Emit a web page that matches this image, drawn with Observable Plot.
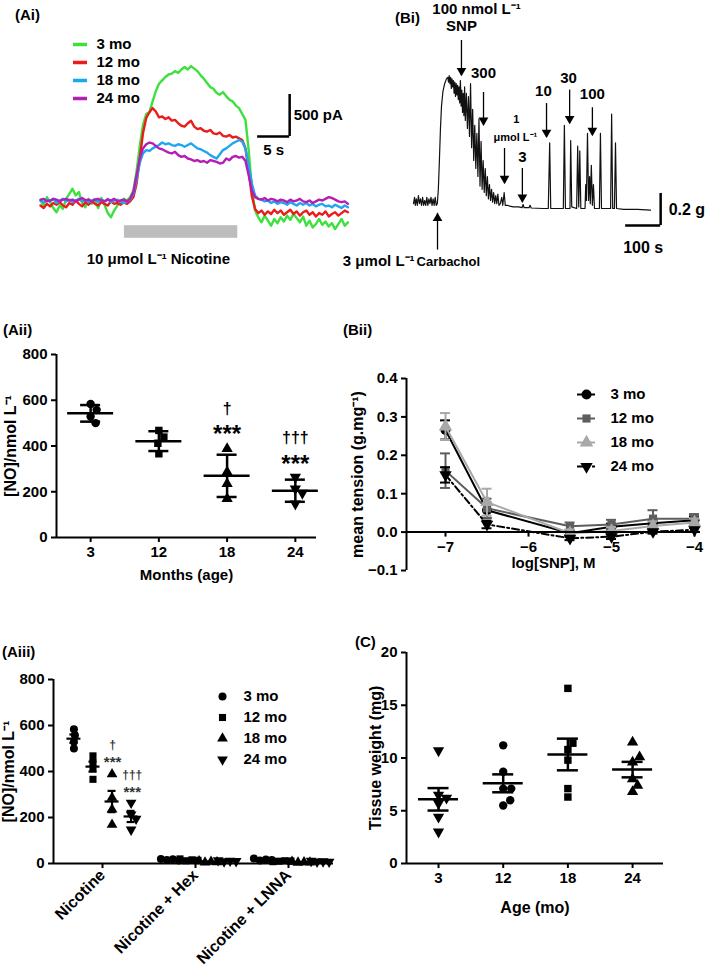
<!DOCTYPE html>
<html><head><meta charset="utf-8">
<script src="https://cdn.jsdelivr.net/npm/d3@7"></script>
<script src="https://cdn.jsdelivr.net/npm/@observablehq/plot@0.6"></script>
<style>
html,body{margin:0;padding:0;background:#fff;}
#page{position:relative;width:709px;height:966px;overflow:hidden;background:#fff;font-family:'Liberation Sans',Arial,Helvetica,sans-serif;color:#000;}
.plabel{position:absolute;font-weight:bold;font-size:15px;line-height:16px;white-space:nowrap;}
</style></head>
<body><div id="page"></div>
<script>
// ================= DATA =================
// (Ai) nicotine-evoked currents, one sample every 0.5 s, in pA
const aiSeries = ["3 mo", "12 mo", "18 mo", "24 mo"];
const aiStep = 0.5;
const ai3mo = [0,-60,40,-20,-90,-140,-60,-100,20,80,140,60,100,-30,-80,20,-40,10,-90,30,-50,-150,-200,-120,-60,-20,20,0,40,120,
 350,650,900,1030,1050,1180,1300,1390,1430,1470,1500,1510,1540,1520,1560,1590,1560,1600,1570,1540,1490,1450,1400,1350,1330,1280,1260,1290,1240,1200,1180,1130,1100,1030,960,
 600,150,-120,-200,-260,-180,-240,-300,-220,-270,-200,-250,-180,-230,-160,-210,-260,-190,-300,-240,-320,-280,-220,-290,-250,-310,-270,-340,-280,-220,-300,-260];
const ai12mo = [-60,-90,-40,-70,-30,-50,-20,-60,-80,-30,-50,0,-40,-70,-20,-50,-10,-40,-60,-20,-40,-60,-10,-40,-30,-50,-20,-40,-10,40,
 200,500,800,980,1050,1100,1060,990,1000,970,990,950,960,920,890,880,920,950,880,850,860,830,820,840,800,790,810,770,760,780,750,760,740,720,620,
 350,50,-100,-150,-120,-170,-130,-160,-110,-150,-120,-170,-140,-110,-160,-130,-180,-140,-120,-170,-140,-190,-150,-170,-130,-190,-160,-140,-180,-150,-120,-140];
const ai18mo = [0,-20,10,-10,20,-30,0,20,-10,10,-20,0,20,-10,10,-20,0,15,-15,10,-10,20,-20,0,10,-20,-30,-10,10,80,
 250,450,560,600,590,620,640,660,690,670,680,660,650,670,660,640,660,680,650,620,610,590,570,540,520,500,550,600,620,650,680,700,720,700,620,
 420,200,60,20,10,-10,0,-30,-10,-40,-20,-30,-50,-20,-40,-60,-30,-50,-30,-60,-40,-70,-50,-40,-70,-60,-80,-50,-70,-90,-60,-80];
const ai24mo = [10,20,-10,0,20,10,-10,10,20,0,10,-10,10,30,0,10,-10,10,20,0,-10,10,0,20,-10,0,10,-10,20,100,
 300,500,620,670,690,680,650,620,610,590,570,560,580,540,520,530,500,490,470,480,460,470,450,480,470,460,440,450,500,480,520,530,510,520,470,
 300,120,40,20,10,30,0,20,10,-10,10,0,-20,10,-10,0,20,-10,-20,0,-30,-10,10,0,20,40,30,10,-10,-20,-10,-40];
const nicotinePeriod = {start: 13.1, end: 30.8};          // s
const aiScaleBar = {t: 38.9, pA: 762, tLen: 5, pALen: 500};

// (Bi) SNP relaxation trace: [time s, tension g]
const biTrace = [[0,0.03],[3,0.07],[5,0.02],[8,0.06],[11,0.02],[14,0.08],[17,0.03],[20,0.06],[23,0.02],[26,0.07],[29,0.02],[32,0.05],[35,0.02],[38,0.07],[41,0.02],[44,0.06],[47,0.03],[50,0.07],[53,0.02],[56,0.06],[59,0.02],[62,0.07],[65,0.02],[68,0.03],
 [71,0.12],[74,0.3],[77,0.5],[80,0.64],[84,0.73],[89,0.78],[94,0.81],[98,0.82],
 [100,0.79],[102,0.83],[104,0.78],[106,0.82],[108,0.75],[110,0.81],[112,0.76],[114,0.80],[116,0.72],[118,0.79],[120,0.70],[122,0.78],[124,0.71],[126,0.77],[128,0.68],[130,0.76],[132,0.66],[134,0.80],[136,0.64],[138,0.74],[140,0.60],[142,0.72],[144,0.58],[146,0.76],[148,0.55],
 [151,0.72],[154,0.5],[157,0.7],[160,0.45],[163,0.78],[166,0.38],[169,0.62],[172,0.3],[175,0.52],[178,0.25],[181,0.47],[184,0.2],[187,0.56],[190,0.14],[193,0.42],[196,0.12],[199,0.3],[202,0.1],[205,0.25],[208,0.08],[211,0.2],[214,0.06],[217,0.15],[220,0.05],[223,0.12],[226,0.04],[229,0.1],[232,0.03],[235,0.08],[238,0.03],[241,0.09],[244,0.02],[248,0.03],[252,0.07],[255,0.02],[259,0.1],[262,0.02],[268,0.02],[275,0.015],[285,0.01],[300,0.01],[310,0.005],[313,0.025],[316,0.005],[330,0.005],[333,0.02],[336,0.003],[370,0],
 [385,0],[389,0.41],[392,0],[428,0],[431,0.52],[434,0],[447,0],[449,0.425],[452,0.01],[466,0],[469,0.39],[472,0.01],[473,0.1],[475,0.36],[478,0],[490,0],[492,0.15],[494,0.05],[497,0.47],[500,0.05],[503,0.2],[505,0.03],[508,0.27],[511,0.02],[514,0.15],[517,0],[531,0],[534,0.47],[537,0],[563,0],[566,0.59],[569,0],[574,0],[577,0.41],[580,0],[600,-0.005],[640,-0.005],[677,-0.01]];
const biArrowsDown = [
  {t: 137, from: 1.05, to: 0.83}, {t: 200, from: 0.725, to: 0.52}, {t: 260, from: 0.375, to: 0.156},
  {t: 311, from: 0.25, to: 0.038}, {t: 380, from: 0.656, to: 0.444}, {t: 446, from: 0.74, to: 0.53},
  {t: 511, from: 0.63, to: 0.456}];
const biArrowsUp = [{t: 68.6, from: -0.26, to: -0.03}];
const biLabelsBig = [
  {text: "100 nmol L⁻¹", t: 180, g: 1.245}, {text: "SNP", t: 137, g: 1.14}, {text: "300", t: 200, g: 0.844},
  {text: "3", t: 311, g: 0.319}, {text: "10", t: 371, g: 0.731}, {text: "30", t: 443, g: 0.8125},
  {text: "100", t: 511, g: 0.7125}];
const biLabelsSmall = [{text: "1", t: 294, g: 0.556}, {text: "μmol L⁻¹", t: 291, g: 0.444}];
const biScaleBar = {t: 706, g: -0.106, tLen: 100, gLen: 0.2};

// (Aii)/(Aiii) NO release, nmol/L, per animal
const ages = ["3", "12", "18", "24"];
const ageNames = ["3 mo", "12 mo", "18 mo", "24 mo"];
const no3mo = [584, 558, 529, 500];
const no12mo = [468, 439, 412, 366];
const no18mo = [388, 286, 235, 169];
const no24mo = [264, 213, 194, 147];
const aiiiTreatments = ["Nicotine", "Nicotine + Hex", "Nicotine + LNNA"];
const noHex = [[15, 18, 20, 13], [12, 16, 20, 14], [5, 8, 10, 6], [9, 12, 14, 10]];
const noLnna = [[13, 17, 22, 15], [10, 12, 8, 11], [4, 6, 8, 5], [8, 9, 11, 7]];

// (Bii) SNP concentration-response, mean and SEM
const snpLog = [-7, -6.5, -5.5, -5, -4.5, -4];
const biiMean = [
  [0.266, 0.057, -0.003, 0.014, 0.023, 0.031],
  [0.160, 0.062, 0.015, 0.020, 0.035, 0.035],
  [0.275, 0.078, -0.003, 0.003, 0.016, 0.025],
  [0.149, 0.020, -0.016, -0.012, 0.001, 0.006]];
const biiSem = [
  [0.025, 0.020, 0.005, 0.008, 0.008, 0.010],
  [0.045, 0.025, 0.010, 0.012, 0.022, 0.012],
  [0.035, 0.035, 0.010, 0.010, 0.012, 0.010],
  [0.020, 0.010, 0.005, 0.006, 0.005, 0.005]];

// (C) tissue weight, mg
const wt3mo = [10.7, 6.5, 6.2, 5.7, 4.4, 3.0];
const wt12mo = [11.2, 8.7, 7.1, 7.1, 5.5, 6.0];
const wt18mo = [16.6, 10.8, 11.4, 9.8, 7.1, 6.3];
const wt24mo = [11.5, 9.6, 10.1, 8.0, 7.4, 6.8];

// ================= HELPERS =================
const FONT = "'Liberation Sans', Arial, Helvetica, sans-serif";
const page = document.getElementById("page");
function mount(el, left, top) {
  el.style.position = "absolute"; el.style.left = left + "px"; el.style.top = top + "px";
  page.appendChild(el);
}
function box(left, top, width, height, fx0, fx1, fy0, fy1) {
  return {width, height, marginLeft: fx0 - left, marginRight: left + width - fx1,
          marginTop: fy0 - top, marginBottom: top + height - fy1};
}
const svgStyle = {background: "transparent", overflow: "visible", fontFamily: FONT,
                  fontSize: "15px", fontWeight: "bold", color: "#000"};
function swarm(vals, pxPerY, r) {
  const placed = [];
  return vals.map(v => {
    const py = v * pxPerY;
    let off = 0;
    for (let k = 0; k < 200; k++) {
      const c = k === 0 ? 0 : (k % 2 ? 1 : -1) * Math.ceil(k / 2);
      if (placed.every(p => Math.hypot(p.dx - c, p.py - py) >= 2 * r)) { off = c; break; }
    }
    placed.push({dx: off, py});
    return off;
  });
}
function yTitle(text, dx, size) {
  return Plot.text([text], {frameAnchor: "left", dx, rotate: -90, text: d => d,
    textAnchor: "middle", lineAnchor: "middle", fontSize: size});
}
function xTitle(text, dy, size) {
  return Plot.text([text], {frameAnchor: "bottom", dy, text: d => d,
    textAnchor: "middle", lineAnchor: "middle", fontSize: size});
}
// scatter-with-mean panel
function scatterMarks(b, xDomain, yDomain, groups, opt) {
  const pxX = (b.width - b.marginLeft - b.marginRight) / (xDomain[1] - xDomain[0]);
  const pxY = (b.height - b.marginTop - b.marginBottom) / (yDomain[1] - yDomain[0]);
  const pts = [], stats = [];
  groups.forEach(gr => {
    const offs = swarm(gr.vals, pxY, opt.swarmR);
    gr.vals.forEach((v, i) => pts.push({s: gr.s, v, x: gr.x + offs[i] / pxX}));
    const sd = d3.deviation(gr.vals);
    stats.push({x: gr.x, mean: d3.mean(gr.vals), err: opt.sem ? sd / Math.sqrt(gr.vals.length) : sd});
  });
  const mh = opt.meanHalf / pxX, ch = opt.capHalf / pxX;
  const marks = [];
  for (let s = 0; s < 4; s++) {
    marks.push(Plot.dot(pts.filter(p => p.s === s), {x: "x", y: "v", symbol: opt.symbols[s],
      rotate: opt.rotates[s], r: opt.r, fill: "#000"}));
  }
  const sw = opt.lineW;
  marks.push(
    Plot.ruleY(stats, {y: "mean", x1: d => d.x - mh, x2: d => d.x + mh, strokeWidth: sw}),
    Plot.ruleX(stats, {x: "x", y1: d => d.mean - d.err, y2: d => d.mean + d.err, strokeWidth: sw}),
    Plot.ruleY(stats, {y: d => d.mean + d.err, x1: d => d.x - ch, x2: d => d.x + ch, strokeWidth: sw}),
    Plot.ruleY(stats, {y: d => d.mean - d.err, x1: d => d.x - ch, x2: d => d.x + ch, strokeWidth: sw})
  );
  return marks;
}
function legendPlot(b, names, marks) {
  return Plot.plot({...b, style: svgStyle,
    x: {domain: [0, 1], axis: null},
    y: {type: "point", domain: names, padding: 0, axis: null},
    marks});
}

// ================= PANEL LABELS =================
const panelLabels = [["(Ai)", 15, 7], ["(Bi)", 395, 10], ["(Aii)", 3, 322], ["(Bii)", 343, 322], ["(Aiii)", 2, 644], ["(C)", 355, 634]];
panelLabels.forEach(([t, l, tp]) => {
  const d = document.createElement("div"); d.className = "plabel"; d.textContent = t;
  d.style.left = l + "px"; d.style.top = tp + "px"; page.appendChild(d);
});

// ================= (Ai) =================
const aiColors = ["#3ee03e", "#ec1c1c", "#1ea6f0", "#b41eb4"];
const aiTraces = [ai3mo, ai12mo, ai18mo, ai24mo];
const aiBox = box(0, 0, 360, 300, 40, 350, 65.6, 200);
mount(Plot.plot({...aiBox, style: svgStyle,
  x: {domain: [0, 48.4], axis: null},
  y: {domain: [0, 1600], axis: null},
  marks: [
    Plot.rect([nicotinePeriod], {x1: "start", x2: "end", y1: -300, y2: -450, fill: "#bdbdbd"}),
    ...aiTraces.map((vals, k) => Plot.line(vals, {x: (d, i) => i * aiStep, y: d => d,
      stroke: aiColors[k], strokeWidth: 2.4, strokeLinejoin: "round"})),
    Plot.ruleX([aiScaleBar], {x: "t", y1: "pA", y2: d => d.pA + d.pALen, strokeWidth: 2.5}),
    Plot.ruleY([aiScaleBar], {y: "pA", x1: d => d.t - d.tLen, x2: "t", strokeWidth: 2.5}),
    Plot.text([aiScaleBar], {x: "t", y: d => d.pA + d.pALen / 2, dx: 4, text: d => d.pALen + " pA", textAnchor: "start", fontSize: 15}),
    Plot.text([aiScaleBar], {x: d => d.t - d.tLen / 2, y: "pA", dy: 14, text: d => d.tLen + " s", fontSize: 15}),
    Plot.text(["10 μmol L⁻¹ Nicotine"], {x: 18.4, y: -702, text: d => d, fontSize: 15})
  ]}), 0, 0);
mount(legendPlot(box(60, 30, 100, 80, 73, 87, 43.3, 99), aiSeries, [
  Plot.ruleY(aiSeries, {y: d => d, x1: 0, x2: 1, stroke: (d, i) => aiColors[i], strokeWidth: 3.5}),
  Plot.text(aiSeries, {y: d => d, x: 1, dx: 9, text: d => d, textAnchor: "start", fontSize: 15})
]), 60, 30);

// ================= (Bi) =================
const biBox = box(320, 0, 389, 300, 413, 650, 76.8, 208);
mount(Plot.plot({...biBox, style: svgStyle,
  x: {domain: [0, 677], axis: null},
  y: {domain: [0, 0.82], axis: null},
  marks: [
    Plot.line(biTrace, {x: d => d[0], y: d => d[1], stroke: "#111", strokeWidth: 1.2}),
    Plot.ruleX(biArrowsDown, {x: "t", y1: "from", y2: "to", strokeWidth: 1.3}),
    Plot.dot(biArrowsDown, {x: "t", y: "to", symbol: "triangle", rotate: 180, r: 3.6, dy: -5, fill: "#000"}),
    Plot.ruleX(biArrowsUp, {x: "t", y1: "from", y2: "to", strokeWidth: 1.3}),
    Plot.dot(biArrowsUp, {x: "t", y: "to", symbol: "triangle", r: 3.6, dy: 5, fill: "#000"}),
    Plot.text(biLabelsBig, {x: "t", y: "g", text: "text", fontSize: 15}),
    Plot.text(biLabelsSmall, {x: "t", y: "g", text: "text", fontSize: 11}),
    Plot.ruleX([biScaleBar], {x: "t", y1: "g", y2: d => d.g + d.gLen, strokeWidth: 2.5}),
    Plot.ruleY([biScaleBar], {y: "g", x1: d => d.t - d.tLen, x2: "t", strokeWidth: 2.5}),
    Plot.text([biScaleBar], {x: "t", y: d => d.g + d.gLen / 2, dx: 8, text: d => d.gLen + " g", textAnchor: "start", fontSize: 16}),
    Plot.text([biScaleBar], {x: d => d.t - d.tLen / 2, y: "g", dy: 22, text: d => d.tLen + " s", fontSize: 16}),
    Plot.text(["3 μmol L⁻¹"], {x: 3, y: -0.33, text: d => d, textAnchor: "end", fontSize: 15}),
    Plot.text(["Carbachol"], {x: 8.6, y: -0.33, dy: 1, text: d => d, textAnchor: "start", fontSize: 13})
  ]}), 320, 0);

// ================= (Aii) =================
const noAll = [no3mo, no12mo, no18mo, no24mo];
const aiiBox = box(0, 310, 340, 290, 56, 316, 354, 537);
const aiiX = [-0.5, 3.31], aiiY = [0, 800];
const aiiSig = [{i: 2, v: 564, t: "†"}, {i: 3, v: 437, t: "†††"}];
const aiiStars = [{i: 2, v: 452}, {i: 3, v: 322}];
mount(Plot.plot({...aiiBox, style: svgStyle,
  x: {domain: aiiX, axis: null}, y: {domain: aiiY, axis: null},
  marks: [
    Plot.ruleX([aiiX[0]], {strokeWidth: 2}),
    Plot.ruleY([0], {strokeWidth: 2}),
    Plot.axisY({ticks: [0, 200, 400, 600, 800], tickSize: 5, tickPadding: 4, strokeWidth: 2, label: null}),
    Plot.axisX({ticks: [0, 1, 2, 3], tickFormat: i => ages[i], tickSize: 5, tickPadding: 4, strokeWidth: 2, label: null}),
    yTitle("[NO]/nmol L⁻¹", -46, 16),
    xTitle("Months (age)", 38, 15),
    ...scatterMarks(aiiBox, aiiX, aiiY, noAll.map((vals, s) => ({vals, s, x: s})),
      {swarmR: 4, r: 4.2, symbols: ["circle", "square", "triangle", "triangle"], rotates: [0, 0, 0, 180],
       meanHalf: 23, capHalf: 10, lineW: 2.5, sem: false}),
    Plot.text(aiiSig, {x: "i", y: "v", text: "t", fontSize: 16}),
    Plot.text(aiiStars, {x: "i", y: "v", text: () => "***", fontSize: 24})
  ]}), 0, 310);

// ================= (Bii) =================
const biiColors = ["#000", "#5e5e5e", "#a8a8a8", "#000"];
const biiSymbols = ["circle", "square", "triangle", "triangle"];
const biiRot = [0, 0, 0, 180];
const biiR = [5, 4.6, 5, 4.6];
const biiDash = [null, null, null, "7,3,2,3"];
const biiBox = box(340, 310, 369, 290, 406, 700, 378, 570);
const biiX = [-7.47, -3.928], biiY = [-0.1, 0.4];
const biiPxY = (570 - 378) / (biiY[1] - biiY[0]);
const biiCap = 5 / ((700 - 406) / (biiX[1] - biiX[0]));
const biiMarks = [];
ageNames.forEach((name, k) => {
  const rows = snpLog.map((x, i) => ({x, m: biiMean[k][i], e: biiSem[k][i]}));
  biiMarks.push(
    Plot.line(rows, {x: "x", y: "m", stroke: biiColors[k], strokeWidth: 2, strokeDasharray: biiDash[k]}),
    Plot.ruleX(rows, {x: "x", y1: d => d.m - d.e, y2: d => d.m + d.e, stroke: biiColors[k], strokeWidth: 2}),
    Plot.ruleY(rows, {y: d => d.m + d.e, x1: d => d.x - biiCap, x2: d => d.x + biiCap, stroke: biiColors[k], strokeWidth: 2}),
    Plot.ruleY(rows, {y: d => d.m - d.e, x1: d => d.x - biiCap, x2: d => d.x + biiCap, stroke: biiColors[k], strokeWidth: 2}),
    Plot.dot(rows, {x: "x", y: "m", symbol: biiSymbols[k], rotate: biiRot[k], r: biiR[k], fill: biiColors[k]})
  );
});
const biiXTicks = [-7, -6, -5, -4];
mount(Plot.plot({...biiBox, style: svgStyle,
  x: {domain: biiX, axis: null}, y: {domain: biiY, axis: null},
  marks: [
    Plot.ruleX([biiX[0]], {strokeWidth: 2}),
    Plot.axisY({ticks: [-0.1, 0, 0.1, 0.2, 0.3, 0.4], tickFormat: d3.format(".1f"), tickSize: 5, tickPadding: 4, strokeWidth: 2, label: null}),
    ...biiMarks,
    Plot.ruleY([0], {strokeWidth: 2}),
    Plot.ruleX(biiXTicks, {x: d => d, y1: 0, y2: -5 / biiPxY, strokeWidth: 2}),
    Plot.text(biiXTicks, {x: d => d, y: 0, dy: 15, text: d3.format("d")}),
    yTitle("mean tension (g.mg⁻¹)", -49, 16),
    xTitle("log[SNP], M", -7, 15)
  ]}), 340, 310);
mount(legendPlot(box(560, 380, 149, 100, 577, 595, 393.3, 466.7), ageNames, [
  ...ageNames.map((n, k) => Plot.ruleY([n], {y: d => d, x1: 0, x2: 1, stroke: biiColors[k], strokeWidth: 2, strokeDasharray: biiDash[k]})),
  ...ageNames.map((n, k) => Plot.dot([n], {y: d => d, x: 0.5, symbol: biiSymbols[k], rotate: biiRot[k], r: biiR[k], fill: biiColors[k]})),
  Plot.text(ageNames, {y: d => d, x: 1, dx: 15, text: d => d, textAnchor: "start", fontSize: 15})
]), 560, 380);

// ================= (Aiii) =================
const aiiiBox = box(0, 640, 350, 326, 53, 333, 679, 863);
const aiiiX = [-0.527, 2.484], aiiiY = [0, 800];
const aiiiSub = s => (s - 1.5) * 0.205;
const aiiiGroups = [];
[noAll, noHex, noLnna].forEach((sets, c) => sets.forEach((vals, s) => aiiiGroups.push({vals, s, x: c + aiiiSub(s)})));
const aiiiSig = [{x: 0.108, v: 513, t: "†"}, {x: 0.32, v: 383, t: "†††"}];
const aiiiStars = [{x: 0.108, v: 440}, {x: 0.32, v: 310}];
const aiiiSymbols = ["circle", "square", "triangle", "triangle"], aiiiRot = [0, 0, 0, 180];
mount(Plot.plot({...aiiiBox, style: svgStyle,
  x: {domain: aiiiX, axis: null}, y: {domain: aiiiY, axis: null},
  marks: [
    Plot.ruleX([aiiiX[0]], {strokeWidth: 2}),
    Plot.ruleY([0], {strokeWidth: 2}),
    Plot.axisY({ticks: [0, 200, 400, 600, 800], tickSize: 5, tickPadding: 4, strokeWidth: 2, label: null}),
    Plot.axisX({ticks: [0, 1, 2], tickFormat: i => aiiiTreatments[i], tickRotate: -45, tickSize: 5, tickPadding: 4, strokeWidth: 2, label: null, fontSize: 16}),
    yTitle("[NO]/nmol L⁻¹", -45, 16),
    ...scatterMarks(aiiiBox, aiiiX, aiiiY, aiiiGroups,
      {swarmR: 3, r: 4, symbols: aiiiSymbols, rotates: aiiiRot, meanHalf: 7, capHalf: 4, lineW: 2.2, sem: true}),
    Plot.text(aiiiSig, {x: "x", y: "v", text: "t", fontSize: 12, fill: "#333"}),
    Plot.text(aiiiStars, {x: "x", y: "v", text: () => "***", fontSize: 15, fill: "#333"})
  ]}), 0, 640);
mount(legendPlot(box(210, 683, 120, 90, 217, 227, 695, 759), ageNames, [
  ...ageNames.map((n, k) => Plot.dot([n], {y: d => d, x: 0.5, symbol: aiiiSymbols[k], rotate: aiiiRot[k], r: 4, fill: "#000"})),
  Plot.text(ageNames, {y: d => d, x: 1, dx: 16, text: d => d, textAnchor: "start", fontSize: 15})
]), 210, 683);

// ================= (C) =================
const cBox = box(350, 640, 359, 326, 406, 663, 652, 863);
const cX = [-0.495, 3.478], cY = [0, 20];
const wtAll = [wt3mo, wt12mo, wt18mo, wt24mo];
mount(Plot.plot({...cBox, style: svgStyle,
  x: {domain: cX, axis: null}, y: {domain: cY, axis: null},
  marks: [
    Plot.ruleX([cX[0]], {strokeWidth: 2}),
    Plot.ruleY([0], {strokeWidth: 2}),
    Plot.axisY({ticks: [0, 5, 10, 15, 20], tickSize: 5, tickPadding: 4, strokeWidth: 2, label: null}),
    Plot.axisX({ticks: [0, 1, 2, 3], tickFormat: i => ages[i], tickSize: 5, tickPadding: 4, strokeWidth: 2, label: null}),
    yTitle("Tissue weight (mg)", -31, 16),
    xTitle("Age (mo)", 44, 16),
    ...scatterMarks(cBox, cX, cY, wtAll.map((vals, s) => ({vals, s, x: s})),
      {swarmR: 4, r: 4.2, symbols: ["triangle", "circle", "square", "triangle"], rotates: [180, 0, 0, 0],
       meanHalf: 20, capHalf: 10.5, lineW: 2.5, sem: true})
  ]}), 350, 640);
</script></body></html>
